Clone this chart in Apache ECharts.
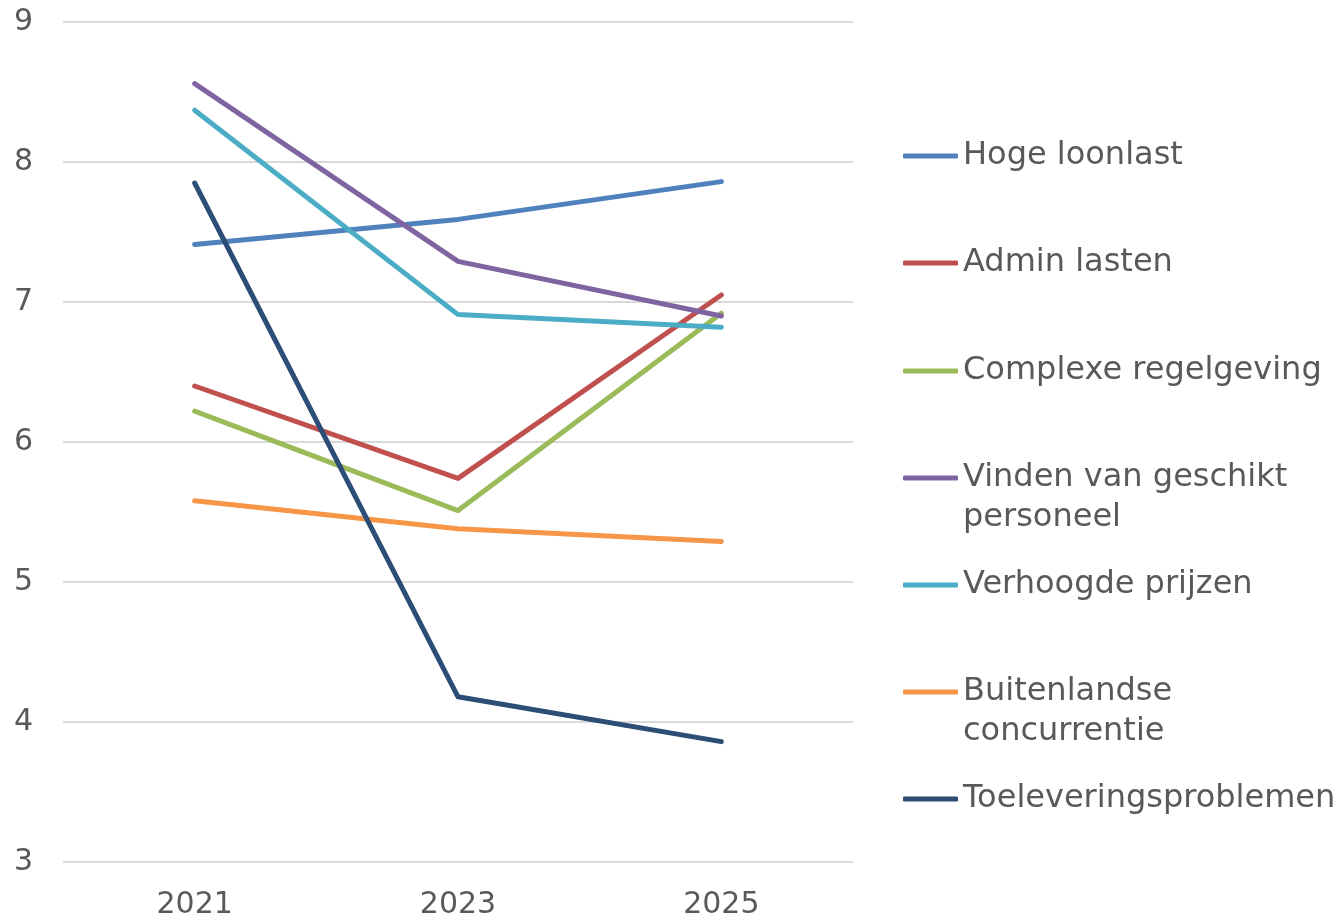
<!DOCTYPE html>
<html>
<head>
<meta charset="utf-8">
<script src="https://cdn.jsdelivr.net/npm/echarts@6/dist/echarts.min.js"></script>
<style>html,body{margin:0;padding:0;background:#fff}#c{width:1340px;height:920px}</style>
</head>
<body>
<div id="c"></div>
<script>
const categories = ['2021', '2023', '2025'];
const seriesNames = ['Hoge loonlast', 'Admin lasten', 'Complexe regelgeving', 'Vinden van geschikt personeel', 'Verhoogde prijzen', 'Buitenlandse concurrentie', 'Toeleveringsproblemen'];
const legendLabels = ['Hoge loonlast', 'Admin lasten', 'Complexe regelgeving', 'Vinden van geschikt\npersoneel', 'Verhoogde prijzen', 'Buitenlandse\nconcurrentie', 'Toeleveringsproblemen'];
const hogeLoonlast = [7.41, 7.59, 7.86];
const adminLasten = [6.40, 5.74, 7.05];
const complexeRegelgeving = [6.22, 5.51, 6.92];
const vindenPersoneel = [8.56, 7.29, 6.90];
const verhoogdePrijzen = [8.37, 6.91, 6.82];
const buitenlandseConcurrentie = [5.58, 5.38, 5.29];
const toeleveringsproblemen = [7.85, 4.18, 3.86];
const yTicks = { min: 3, max: 9, interval: 1 };

const values = [hogeLoonlast, adminLasten, complexeRegelgeving, vindenPersoneel, verhoogdePrijzen, buitenlandseConcurrentie, toeleveringsproblemen];
const colors = ['#4F81BD', '#C0504D', '#9BBB59', '#8064A2', '#4BACC6', '#F79646', '#2C4D75'];
const legendCenters = [156, 263, 371, 478, 585, 692, 799];
const font = 'DejaVu Sans, Verdana, sans-serif';
const textColor = '#595959';
const LH = 40;

const chart = echarts.init(document.getElementById('c'), null, { renderer: 'canvas' });

const legends = seriesNames.map((name, i) => {
  const multi = legendLabels[i].indexOf('\n') >= 0;
  return {
    data: [name],
    left: 903,
    top: multi ? legendCenters[i] - LH * 1.5 : legendCenters[i] - LH / 2,
    padding: 0,
    orient: 'vertical',
    icon: 'roundRect',
    itemWidth: 55,
    itemHeight: 5,
    selectedMode: false,
    formatter: () => multi ? '\n' + legendLabels[i] : legendLabels[i],
    textStyle: { fontFamily: font, fontSize: 32, color: textColor, lineHeight: LH }
  };
});

chart.setOption({
  animation: false,
  backgroundColor: '#fff',
  color: colors,
  grid: { left: 63, right: 487, top: 22, bottom: 57, containLabel: false },
  legend: legends,
  xAxis: {
    type: 'category',
    data: categories,
    boundaryGap: true,
    axisLine: { show: false },
    axisTick: { show: false },
    axisLabel: { fontFamily: font, fontSize: 30, color: textColor, margin: 28 }
  },
  yAxis: {
    type: 'value',
    min: yTicks.min,
    max: yTicks.max,
    interval: yTicks.interval,
    axisLine: { show: false },
    axisTick: { show: false },
    splitLine: { lineStyle: { color: '#D9D9D9', width: 2 } },
    axisLabel: { fontFamily: font, fontSize: 30, color: textColor, margin: 30 }
  },
  series: seriesNames.map((name, i) => ({
    name: name,
    type: 'line',
    data: values[i],
    symbol: 'none',
    lineStyle: { width: 5, color: colors[i], cap: 'round', join: 'round' },
    itemStyle: { color: colors[i] }
  }))
});
</script>
</body>
</html>
